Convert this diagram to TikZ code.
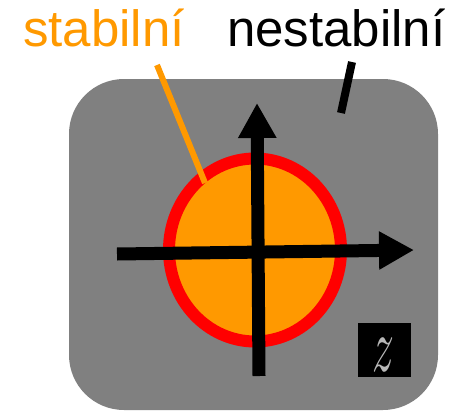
\documentclass[tikz,border=0pt]{standalone}
\usepackage{fontspec}
\setmainfont{Liberation Sans}
\usetikzlibrary{arrows.meta,shapes.geometric}
\definecolor{bggray}{HTML}{808080}
\definecolor{stborange}{HTML}{FF9900}
\definecolor{zgray}{HTML}{B8B8B8}
\tikzset{
  axisline/.style={line width=13pt, -{Triangle[length=35pt,width=36pt]}},
  lbl/.style={inner sep=0pt, anchor=base west, font=\fontsize{51}{60}\selectfont},
}
\begin{document}
\begin{tikzpicture}[x=1pt,y=-1pt]
\useasboundingbox (0,0) rectangle (465,412);
% background panel
\fill[bggray, rounded corners=55pt] (69,79) rectangle (438,410);
% stable region
\node[ellipse, draw=red, fill=stborange, line width=12pt, inner sep=0pt, minimum width=172pt, minimum height=183pt] (reg) at (255,250) {};
% axes
\coordinate (xl) at (117,254);
\coordinate (xr) at (414,250);
\coordinate (yb) at (259,376);
\coordinate (yt) at (257,103);
\draw[axisline] (xl) -- (xr);
\draw[axisline] (yb) -- (yt);
% z box
\node[fill=black, minimum width=53pt, minimum height=54pt, inner sep=0pt] (zb) at (384.5,350) {};
\node[text=zgray, inner sep=0pt] (zl) at (383.5,355) {\resizebox{22pt}{33pt}{$z$}};
% labels
\node[lbl, text=stborange] (st) at (23,47) {stabilní};
\node[lbl, text=black] (nst) at (227,47) {nestabilní};
\coordinate (sta) at (157,65);
\coordinate (stb) at (205,183);
\coordinate (nsa) at (352,62);
\coordinate (nsb) at (341,113);
\draw[stborange, line width=6pt] (sta) -- (stb);
\draw[black, line width=8pt] (nsa) -- (nsb);
\end{tikzpicture}
\end{document}
